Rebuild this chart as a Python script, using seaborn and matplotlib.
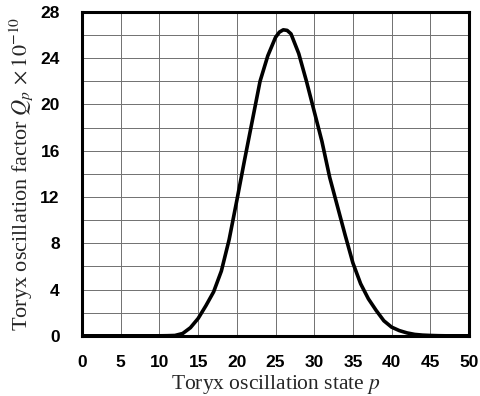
import matplotlib
matplotlib.use("Agg")
import matplotlib.pyplot as plt
from matplotlib.ticker import MultipleLocator
import seaborn as sns
import pandas as pd

# toryx oscillation state p and factor Q_p (x 1e-10)
p = [0, 1, 2, 3, 4, 5, 6, 7, 8, 9, 10, 11, 12, 13, 14, 15, 16, 17, 18, 19, 20,
     21, 22, 23, 24, 25, 25.5, 26, 26.5, 27, 28, 29, 30, 31, 32, 33, 34, 35,
     36, 37, 38, 39, 40, 41, 42, 43, 44, 45, 46, 47, 48, 49, 50]
q = [0, 0, 0, 0, 0, 0, 0, 0, 0, 0, 0, 0.01, 0.03, 0.2, 0.7, 1.5, 2.6, 3.8, 5.6, 8.3, 11.7,
     15.2, 18.6, 22.0, 24.2, 25.8, 26.25, 26.45, 26.4, 26.1, 24.4, 22.0, 19.4, 16.8, 13.7, 11.2, 8.7, 6.3,
     4.5, 3.2, 2.2, 1.3, 0.75, 0.45, 0.25, 0.12, 0.06, 0.03, 0.01, 0, 0, 0, 0]

df = pd.DataFrame({"p": p, "Q": q})

sns.set_style("white")
plt.rcParams["mathtext.fontset"] = "stix"

fig = plt.figure(figsize=(4.8, 3.96), dpi=100)
ax = fig.add_axes([0.171, 0.152, 0.806, 0.818])

sns.lineplot(data=df, x="p", y="Q", color="black", linewidth=2.6, ax=ax)

ax.set_xlim(0, 50)
ax.set_ylim(0, 28)
ax.xaxis.set_major_locator(MultipleLocator(5))
ax.yaxis.set_major_locator(MultipleLocator(4))
ax.yaxis.set_minor_locator(MultipleLocator(2))
ax.grid(True, which="both", color="#707070", linewidth=0.7)
ax.set_axisbelow(True)

for s in ax.spines.values():
    s.set_visible(True)
    s.set_color("black")
    s.set_linewidth(2.2)

ax.tick_params(axis="both", which="both", direction="out", length=5, width=0.8,
               color="#666666", labelcolor="black", labelsize=12.5)
ax.tick_params(axis="x", pad=9)
ax.tick_params(axis="y", pad=11)
for lab in ax.get_xticklabels() + ax.get_yticklabels():
    lab.set_fontfamily("Liberation Sans")
    lab.set_fontweight("bold")

ax.set_xlabel("Toryx oscillation state $p$", fontsize=15.5,
              fontfamily="Liberation Serif", labelpad=2)
ax.set_ylabel(r"Toryx oscillation factor $Q_p\,\times10^{-10}$", fontsize=16,
              fontfamily="Liberation Serif", labelpad=4)

fig.savefig("out.png", dpi=100)
